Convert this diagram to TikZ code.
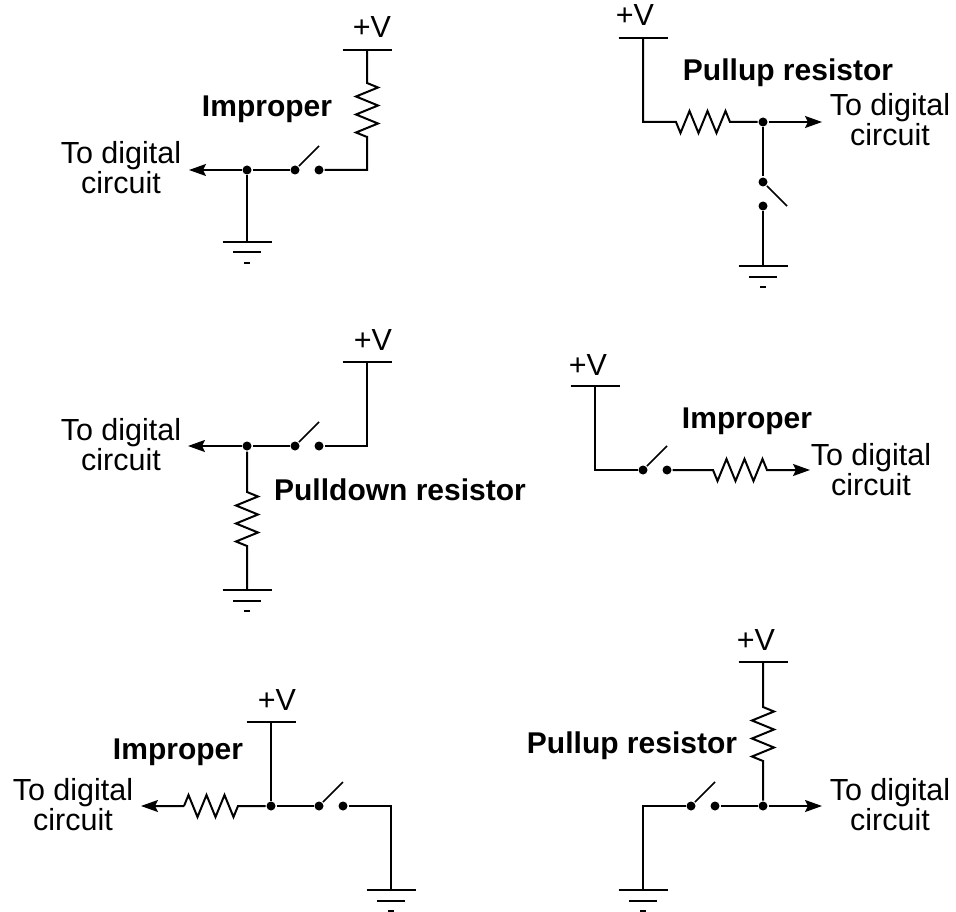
\documentclass[tikz,border=0pt]{standalone}
\usepackage{fontspec}
\setmainfont{Liberation Sans}
\usetikzlibrary{positioning,arrows.meta,decorations.pathmorphing}

\tikzset{
    dot/.style={circle, fill, inner sep=0pt, minimum size=9pt},
    tag/.style={font=\fontsize{30.5}{30}\selectfont, align=center, inner sep=0pt, anchor=base},
    head/.style={tag, font=\fontsize{30}{30}\selectfont\bfseries},
    resistor/.style={decoration={zigzag, amplitude=11pt, segment length=18pt}},
    flipped/.style={resistor, decoration={mirror}},
    feed/.style={-{Stealth[length=17pt, width=12pt, inset=3pt]}},
    lever/.style={line width=1.6pt},
    supply/.pic={\draw[line width=1.6pt] (-24.5,0) -- (24.5,0);},
    ground/.pic={
        \draw[line width=1.6pt] (-24.5,0) -- (24.5,0);
        \draw (-14,10.5) -- (14,10.5);
        \draw (-3,21) -- (3,21);
    },
}

\begin{document}
\begin{tikzpicture}[x=1pt, y=-1pt, on grid, line width=2pt]
            \useasboundingbox (0,0) rectangle (956,912);

            % top left
            \coordinate (v1) at (367,50);
            \coordinate[below=33pt of v1] (r1a);
            \coordinate[below=54pt of r1a] (r1b);
            \coordinate[below=33pt of r1b] (c1);
            \node[dot, left=48pt of c1, anchor=center] (s1b) {};
            \node[dot, left=24pt of s1b] (s1a) {};
            \coordinate[above right=24pt and 24pt of s1a] (l1);
            \node[dot, left=48pt of s1a] (j1) {};
            \coordinate[left=58pt of j1] (t1);
            \coordinate[below=72pt of j1] (g1);
            \pic at (v1) {supply};
            \pic at (g1) {ground};
            \draw (v1) -- (r1a) decorate[resistor] {-- (r1b)} -- (c1) -- (s1b);
            \draw[lever] (s1a) -- (l1);
            \draw (j1) -- (g1);
            \draw (s1a) -- (j1);
            \draw[feed] (j1) -- (t1);
            \node[tag] (n1) at (372,38) {+V};
            \node[head] (h1) at (267,117) {Improper};
            \node[tag] (d1) at (121,194) {To digital\\circuit};

            % top right
            \coordinate (v2) at (643,38);
            \coordinate[below=84pt of v2] (c2);
            \coordinate[right=33pt of c2] (r2a);
            \coordinate[right=54pt of r2a] (r2b);
            \node[dot, right=33pt of r2b, anchor=center] (j2) {};
            \coordinate[right=59pt of j2] (t2);
            \node[dot, below=60pt of j2] (s2a) {};
            \node[dot, below=24pt of s2a] (s2b) {};
            \coordinate[below right=24pt and 24pt of s2a] (l2);
            \coordinate[below=60pt of s2b] (g2);
            \pic at (v2) {supply};
            \pic at (g2) {ground};
            \draw (v2) -- (c2) -- (r2a) decorate[flipped] {-- (r2b)} -- (j2);
            \draw[feed] (j2) -- (t2);
            \draw (j2) -- (s2a);
            \draw[lever] (s2a) -- (l2);
            \draw (s2b) -- (g2);
            \node[tag] (n2) at (635,26) {+V};
            \node[head] (h2) at (788,81) {Pullup resistor};
            \node[tag] (d2) at (890,146) {To digital\\circuit};

            % middle left
            \coordinate (v3) at (367,362);
            \coordinate[below=84pt of v3] (c3);
            \node[dot, left=48pt of c3, anchor=center] (s3b) {};
            \node[dot, left=24pt of s3b] (s3a) {};
            \coordinate[above right=24pt and 24pt of s3a] (l3);
            \node[dot, left=48pt of s3a] (j3) {};
            \coordinate[left=59pt of j3] (t3);
            \coordinate[below=46pt of j3] (r3a);
            \coordinate[below=54pt of r3a] (r3b);
            \coordinate[below=44pt of r3b] (g3);
            \pic at (v3) {supply};
            \pic at (g3) {ground};
            \draw (v3) -- (c3) -- (s3b);
            \draw[lever] (s3a) -- (l3);
            \draw (s3a) -- (j3);
            \draw[feed] (j3) -- (t3);
            \draw (j3) -- (r3a) decorate[resistor] {-- (r3b)} -- (g3);
            \node[tag] (n3) at (373,350) {+V};
            \node[head] (h3) at (400,500) {Pulldown resistor};
            \node[tag] (d3) at (121,470) {To digital\\circuit};

            % middle right
            \coordinate (v4) at (595,386);
            \coordinate[below=84pt of v4] (c4);
            \node[dot, right=48pt of c4, anchor=center] (s4a) {};
            \node[dot, right=24pt of s4a] (s4b) {};
            \coordinate[above right=24pt and 24pt of s4a] (l4);
            \coordinate[right=46pt of s4b] (r4a);
            \coordinate[right=54pt of r4a] (r4b);
            \coordinate[right=43pt of r4b] (t4);
            \pic at (v4) {supply};
            \draw (v4) -- (c4) -- (s4a);
            \draw[lever] (s4a) -- (l4);
            \draw[feed] (s4b) -- (r4a) decorate[flipped] {-- (r4b)} -- (t4);
            \node[tag] (n4) at (588,375) {+V};
            \node[head] (h4) at (747,428) {Improper};
            \node[tag] (d4) at (871,495) {To digital\\circuit};

            % bottom left
            \coordinate (v5) at (271,722);
            \node[dot, below=84pt of v5, anchor=center] (j5) {};
            \coordinate[left=33pt of j5] (r5a);
            \coordinate[left=54pt of r5a] (r5b);
            \coordinate[left=43pt of r5b] (t5);
            \node[dot, right=48pt of j5] (s5a) {};
            \node[dot, right=24pt of s5a] (s5b) {};
            \coordinate[above right=24pt and 24pt of s5a] (l5);
            \coordinate[right=48pt of s5b] (c5);
            \coordinate[below=84pt of c5] (g5);
            \pic at (v5) {supply};
            \pic at (g5) {ground};
            \draw (v5) -- (j5);
            \draw[feed] (j5) -- (r5a) decorate[resistor] {-- (r5b)} -- (t5);
            \draw (j5) -- (s5a);
            \draw[lever] (s5a) -- (l5);
            \draw (s5b) -- (c5) -- (g5);
            \node[tag] (n5) at (277,710) {+V};
            \node[head] (h5) at (178,759) {Improper};
            \node[tag] (d5) at (73,830) {To digital\\circuit};

            % bottom right
            \coordinate (v6) at (763,662);
            \coordinate[below=45pt of v6] (r6a);
            \coordinate[below=54pt of r6a] (r6b);
            \node[dot, below=45pt of r6b, anchor=center] (j6) {};
            \coordinate[right=59pt of j6] (t6);
            \node[dot, left=48pt of j6] (s6b) {};
            \node[dot, left=24pt of s6b] (s6a) {};
            \coordinate[above right=24pt and 24pt of s6a] (l6);
            \coordinate[left=48pt of s6a] (c6);
            \coordinate[below=84pt of c6] (g6);
            \pic at (v6) {supply};
            \pic at (g6) {ground};
            \draw (v6) -- (r6a) decorate[resistor] {-- (r6b)} -- (j6);
            \draw[feed] (j6) -- (t6);
            \draw (j6) -- (s6b);
            \draw[lever] (s6a) -- (l6);
            \draw (s6a) -- (c6) -- (g6);
            \node[tag] (n6) at (756,650) {+V};
            \node[head] (h6) at (632,753) {Pullup resistor};
            \node[tag] (d6) at (890,830) {To digital\\circuit};
\end{tikzpicture}
\end{document}
